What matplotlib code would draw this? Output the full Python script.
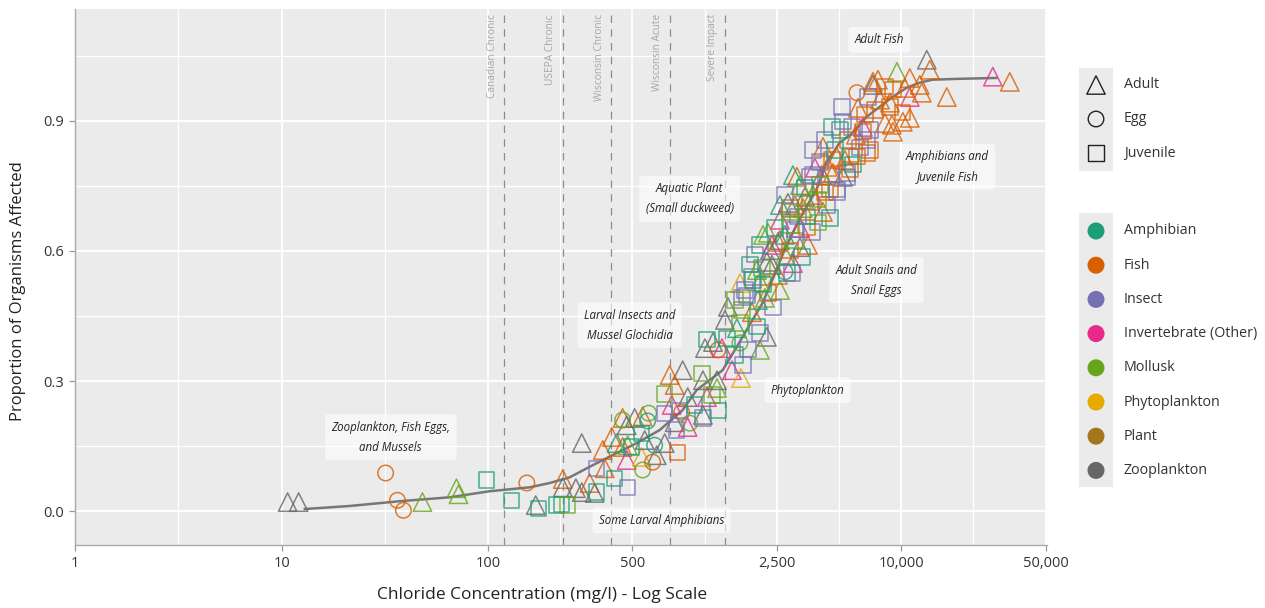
import matplotlib
matplotlib.use("Agg")
import matplotlib.pyplot as plt

plt.rcParams['font.family'] = ['Open Sans', 'DejaVu Sans']

# ---------------- data ----------------
groups = ["Amphibian", "Fish", "Insect", "Invertebrate (Other)", "Mollusk",
          "Phytoplankton", "Plant", "Zooplankton"]
group_colors = ["#1B9E77", "#D95F02", "#7570B3", "#E7298A", "#66A61E",
                "#E6AB02", "#A6761D", "#666666"]
stages = ["Adult", "Egg", "Juvenile"]

# concentration (mg/l), proportion affected, life stage code, group code
conc = [10.7, 12.1, 31.9, 36.4, 38.9, 48.1, 70.3, 71.9, 98, 130, 154, 170, 176, 215, 227, 243,
        230, 230, 266, 284, 310, 328, 336, 284, 336, 367, 410, 474,
        359, 397, 419, 448, 474, 469, 496, 554, 560, 626, 655, 554, 640, 573, 716, 827,
        448, 448, 512, 560, 599, 592, 469,
        757, 875, 800, 716, 774, 716, 846, 865, 800, 818, 925, 946, 1097, 1097, 1297,
        925, 1085, 1097, 1147, 1283, 1283, 1515, 1713, 1676,
        1122, 1147, 1433, 1297, 1356, 1227, 1657, 2238, 2071, 1449, 1694, 2394, 1894,
        1694, 2003, 1402, 1603,
        1792, 2263, 2588, 1657, 2071, 1894, 1915, 1567, 2025, 2189,
        2367, 2238, 2797, 2958, 2991, 3307, 2118, 2530, 2736, 2003,
        2315, 2071, 2142, 2263, 2530, 2588, 3234, 2893, 3058, 2367, 3536, 2736,
        2588, 3234, 3497, 3697, 2893, 2447, 3953, 4518, 4179, 3162, 3497, 2893, 2736,
        2829, 3615, 3420, 3738, 3058, 4370, 2893, 3344, 3953,
        4518, 4884, 4274, 4133, 2991, 3127, 3738, 4672, 5460, 3615, 5223, 5460, 4884,
        4042, 3420,
        3738, 4179, 4042, 4419, 4884, 5646, 6105, 5340, 5838, 4620, 6824, 6312,
        4620, 5051, 5773, 6526, 6824, 7056, 6526, 5521, 6037, 5223, 7056,
        5165, 6105, 6901, 6173, 8819, 8819, 7889, 11005, 10180, 12580, 16620, 7460, 6674,
        9018, 9119, 10180, 8340, 11005,
        7296, 7296, 8340, 7715, 9534, 11005, 12300, 13300, 13750, 27770, 33550, 9119, 10410,
        1657, 1852, 1752, 1959, 2142, 2736, 3234, 2588, 3058, 4274, 4777, 5646, 3823,
        1811, 1567, 2071, 1000, 1212]
prop = [0.021, 0.021, 0.088, 0.025, 0.002, 0.021, 0.053, 0.039, 0.072, 0.025, 0.065, 0.014,
        0.007, 0.014, 0.016, 0.014,
        0.074, 0.055, 0.053, 0.044, 0.065, 0.042, 0.044, 0.157, 0.099, 0.099, 0.076, 0.055,
        0.141, 0.171, 0.157, 0.148, 0.152, 0.118, 0.148, 0.125, 0.095, 0.113, 0.129, 0.180,
        0.152, 0.164, 0.157, 0.136,
        0.215, 0.210, 0.215, 0.219, 0.226, 0.208, 0.198,
        0.314, 0.325, 0.291, 0.270, 0.245, 0.226, 0.233, 0.228, 0.205, 0.187, 0.194, 0.203,
        0.222, 0.215, 0.233,
        0.263, 0.318, 0.302, 0.263, 0.284, 0.302, 0.325, 0.337, 0.307,
        0.376, 0.395, 0.399, 0.372, 0.376, 0.390, 0.388, 0.402, 0.411, 0.471, 0.492, 0.469,
        0.459, 0.464, 0.425, 0.441, 0.422,
        0.498, 0.503, 0.510, 0.526, 0.529, 0.540, 0.533, 0.487, 0.487, 0.492,
        0.568, 0.575, 0.549, 0.549, 0.572, 0.586, 0.561, 0.545, 0.552, 0.556,
        0.602, 0.614, 0.637, 0.642, 0.621, 0.625, 0.609, 0.602, 0.625, 0.614, 0.614, 0.591,
        0.672, 0.653, 0.655, 0.644, 0.660, 0.653, 0.665, 0.676, 0.690, 0.679, 0.679, 0.690,
        0.637,
        0.711, 0.711, 0.725, 0.729, 0.706, 0.706, 0.699, 0.699, 0.718,
        0.741, 0.736, 0.734, 0.775, 0.775, 0.771, 0.775, 0.780, 0.769, 0.771, 0.771, 0.780,
        0.741, 0.752, 0.745,
        0.833, 0.840, 0.805, 0.794, 0.817, 0.817, 0.817, 0.810, 0.799, 0.810, 0.826, 0.838,
        0.886, 0.879, 0.886, 0.875, 0.856, 0.833, 0.886, 0.856, 0.868, 0.898, 0.879,
        0.932, 0.965, 0.955, 0.930, 0.932, 0.942, 0.949, 0.955, 0.919, 0.965, 0.955, 0.925,
        0.914,
        0.891, 0.875, 0.898, 0.895, 0.907,
        0.983, 0.990, 0.979, 0.995, 1.013, 0.999, 0.983, 1.041, 1.018, 1.002, 0.990, 0.972,
        0.976,
        0.434, 0.568, 0.510, 0.591, 0.522, 0.729, 0.752, 0.706, 0.649, 0.856, 0.833, 0.787,
        0.792, 0.372, 0.360, 0.372, 0.245, 0.268]
stage = list("AAEEEAAAJJEAJJJJ" "AAAAAAJAJAJJ" "AAAAAAJAEEAJEAAJ" "AEAAEEA"
             "AAAJAJJEAJAEAJJ" "AJAAAAAJA" "AJJEAAEAJAJJAJJAA"
             "JJAAAJJJAA" "AAJJAJJAEA" "AJAAAAAJJAAA" "AAJJJJJJAJJJA"
             "AJAAAJJAJ" "JJJAAAJAJJAJJJJ" "JAJAAJJAJJJJ" "JJJJJJAJAJJ"
             "JEJAJAAAJAAJJ" "AAAAA" "AAJAAAAAAAAJA"
             "JJJJJJAAJJJJA" "JJAJJ")
group = (["Z", "Z", "F", "F", "F", "M", "M", "M", "Am", "Am", "F", "Z", "Am", "Am", "Am", "M"] +
         ["F", "Z", "Z", "Z", "F", "Z", "Am", "Z", "I", "F", "Am", "I"] +
         ["F", "F", "Am", "F", "M", "V", "Am", "P", "M", "F", "Z", "Am", "Am", "Z", "Z", "F"] +
         ["F", "M", "Z", "F", "M", "Am", "Z"] +
         ["F", "Z", "F", "M", "V", "I", "I", "F", "Z", "I", "V", "M", "Z", "I", "Am"] +
         ["Z", "M", "Z", "V", "M", "Z", "V", "I", "P"] +
         ["Z", "Am", "Am", "F", "V", "Z", "M", "Z", "I", "Z", "I", "I", "F", "M", "Am", "Z", "Am"] +
         ["I", "F", "M", "P", "M", "I", "Am", "M", "Am", "M"] +
         ["Z", "Z", "Am", "I", "V", "Am", "M", "F", "Am", "M"] +
         ["Z", "Am", "M", "M", "F", "Z", "Z", "F", "M", "V", "F", "M"] +
         ["V", "V", "F", "I", "M", "Am", "M", "Am", "F", "I", "Am", "M", "Am"] +
         ["Z", "F", "Z", "F", "F", "I", "Pl", "M", "M"] +
         ["F", "I", "F", "Z", "Am", "F", "I", "F", "I", "I", "Z", "I", "I", "M", "Am"] +
         ["I", "F", "I", "F", "F", "Am", "F", "F", "Am", "F", "F", "I"] +
         ["Am", "Am", "I", "F", "I", "F", "V", "F", "F", "I", "I"] +
         ["I", "F", "I", "F", "F", "F", "F", "V", "F", "F", "F", "F", "F"] +
         ["F", "F", "F", "F", "F"] +
         ["Z", "F", "F", "F", "M", "F", "F", "Z", "F", "V", "F", "F", "F"] +
         ["M", "Am", "I", "I", "Am", "I", "M", "Am", "I", "I", "Am", "F", "V"] +
         ["I", "Am", "M", "Am", "M"])

# cumulative distribution line
line_conc = [12.96, 21.4, 37.4, 65.2, 101.8, 159, 199, 248, 321, 419, 524, 677, 874, 1021,
             1181, 1365, 1595, 1906, 2131, 2435, 2722, 3112, 3518, 3889, 4346, 5023, 5805,
             6785, 7843, 9066, 10596, 12248, 14155, 19120, 28880]
line_prop = [0.005, 0.012, 0.023, 0.032, 0.046, 0.055, 0.065, 0.078, 0.106, 0.134, 0.157,
             0.187, 0.233, 0.279, 0.302, 0.325, 0.378, 0.441, 0.480, 0.545, 0.602, 0.660,
             0.706, 0.741, 0.803, 0.849, 0.872, 0.909, 0.932, 0.955, 0.976, 0.988, 0.995,
             0.997, 0.999]

# regulatory thresholds
thr_values = [120, 230, 395, 757, 1400]
thr_labels = ["Canadian Chronic", "USEPA Chronic", "Wisconsin Chronic", "Wisconsin Acute",
              "Severe Impact"]

# annotation labels
note_text = ["Adult Fish", "Amphibians and\nJuvenile Fish", "Aquatic Plant\n(Small duckweed)",
             "Adult Snails and\nSnail Eggs", "Larval Insects and\nMussel Glochidia",
             "Phytoplankton", "Zooplankton, Fish Eggs,\nand Mussels", "Some Larval Amphibians"]
note_x = [7840, 16740, 945, 7590, 484, 3520, 33.8, 692]
note_y = [1.087, 0.794, 0.720, 0.533, 0.429, 0.279, 0.171, -0.021]

x_ticks = [1, 10, 100, 500, 2500, 10000, 50000]
x_ticklabels = ["1", "10", "100", "500", "2,500", "10,000", "50,000"]
x_minor = [3.162, 31.62, 223.6, 1118, 5000, 22360]
y_ticks = [0.0, 0.3, 0.6, 0.9]
y_minor = [0.15, 0.45, 0.75, 1.05]

# ---------------- drawing ----------------
W, H = 1265, 608
fig = plt.figure(figsize=(W / 100, H / 100), dpi=100)
ax = fig.add_axes([75 / W, (H - 545) / H, (1047 - 75) / W, (545 - 9) / H])
ax.set_facecolor("#EBEBEB")
ax.set_xscale("log")
ax.set_xlim(1, 50800)
ax.set_ylim(-0.078, 1.158)

for v in x_minor:
    ax.axvline(v, color="white", lw=0.9, zorder=0)
for v in x_ticks:
    ax.axvline(v, color="white", lw=1.3, zorder=0)
for v in y_minor:
    ax.axhline(v, color="white", lw=0.9, zorder=0)
for v in y_ticks:
    ax.axhline(v, color="white", lw=1.3, zorder=0)

for v, lab in zip(thr_values, thr_labels):
    ax.axvline(v, color="#8C8C8C", lw=0.9, ls=(0, (6, 5)), zorder=1)
    ax.annotate(lab, xy=(v, 1.146), xytext=(-12, 0), textcoords="offset pixels",
                rotation=90, ha="center", va="top", fontsize=7.3, color="#A6A6A6")

ax.plot(line_conc, line_prop, color="#777777", lw=1.8, zorder=3)

gcode = {"Am": 0, "F": 1, "I": 2, "V": 3, "M": 4, "P": 5, "Pl": 6, "Z": 7}
marker_of = {"A": "^", "E": "o", "J": "s"}
size_of = {"A": 175, "E": 125, "J": 120}
for sc in ["A", "E", "J"]:
    xs = [c for c, s in zip(conc, stage) if s == sc]
    ys = [p for p, s in zip(prop, stage) if s == sc]
    cs = [group_colors[gcode[g]] for g, s in zip(group, stage) if s == sc]
    ax.scatter(xs, ys, marker=marker_of[sc], s=size_of[sc], facecolors="none",
               edgecolors=cs, linewidths=1.1, alpha=0.8, zorder=4)

for t, x, y in zip(note_text, note_x, note_y):
    ax.text(x, y, t, ha="center", va="center", fontsize=8.3, style="italic", color="#222222",
            linespacing=1.7, zorder=5,
            bbox=dict(boxstyle="round,pad=0.55,rounding_size=0.3", fc="white", ec="none",
                      alpha=0.6))

ax.set_xticks(x_ticks)
ax.set_xticklabels(x_ticklabels)
ax.set_xticks([], minor=True)
ax.set_yticks(y_ticks)
ax.set_yticklabels([f"{v:.1f}" for v in y_ticks])
ax.tick_params(axis="both", which="major", length=4, width=0.9, color="#999999",
               labelsize=10.5, labelcolor="#333333", pad=4)
for s in ["top", "right"]:
    ax.spines[s].set_visible(False)
for s in ["left", "bottom"]:
    ax.spines[s].set_color("#AAAAAA")
    ax.spines[s].set_linewidth(1.0)

ax.set_xlabel("Chloride Concentration (mg/l) - Log Scale", fontsize=12.5, color="#222222")
ax.xaxis.set_label_coords(0.481, -0.078)
ax.set_ylabel("Proportion of Organisms Affected", fontsize=12, color="#222222")
ax.yaxis.set_label_coords(-0.050, 0.473)

# ---------------- legends ----------------
lg = fig.add_axes([0, 0, 1, 1])
lg.set_xlim(0, W)
lg.set_ylim(H, 0)
lg.axis("off")
lg.add_patch(plt.Rectangle((1079, 68), 34, 103, color="#EBEBEB", lw=0))
for i, st in enumerate(stages):
    y = 85 + 34 * i
    mk = ["^", "o", "s"][i]
    lg.scatter([1096], [y], marker=mk, s=[175, 125, 120][i], facecolors="none",
               edgecolors="#222222", linewidths=1.0)
    lg.text(1124, y, st, va="center", ha="left", fontsize=10.3, color="#333333")
lg.add_patch(plt.Rectangle((1079, 213), 34, 274, color="#EBEBEB", lw=0))
for i, (g, c) in enumerate(zip(groups, group_colors)):
    y = 231 + 34.2 * i
    lg.scatter([1096], [y], marker="o", s=150, color=c, edgecolors="none")
    lg.text(1124, y, g, va="center", ha="left", fontsize=10.3, color="#333333")

fig.savefig("out.png", dpi=100)
